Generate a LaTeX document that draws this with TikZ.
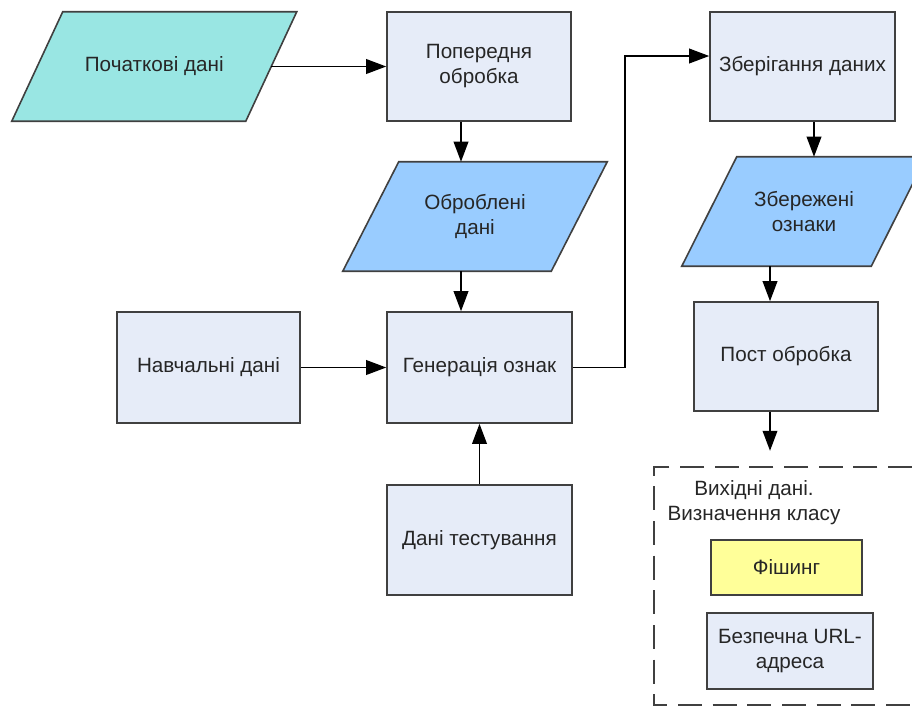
\documentclass[tikz,border=0pt]{standalone}
\usepackage{fontspec}
\setmainfont{Liberation Sans}
\usetikzlibrary{arrows.meta,calc,backgrounds}
\definecolor{boxfill}{HTML}{E6ECF8}
\definecolor{cyanfill}{HTML}{99E6E3}
\definecolor{bluefill}{HTML}{99CCFF}
\definecolor{yelfill}{HTML}{FFFF99}
\definecolor{edge}{HTML}{404040}
\definecolor{txt}{HTML}{262626}
\begin{document}
\begin{tikzpicture}[x=0.75pt,y=-0.75pt,
  sz/.style 2 args={minimum width=#1*0.75pt, minimum height=#2*0.75pt},
  lbl/.style={text=txt, align=center, inner sep=0pt, font=\fontsize{15.5}{18.75}\selectfont},
  box/.style={lbl, draw=edge, line width=1.2pt, fill=boxfill},
  para/.style={lbl, draw=none},
  parashape/.style={draw=edge, line width=1.2pt},
  arr/.style={draw=black, line width=1.1pt, -{Triangle[length=15pt,width=11pt]}},
  dashbox/.style={draw=edge, line width=1.2pt, dash pattern=on 18pt off 8pt}
]
\useasboundingbox (0,0) rectangle (912,708);

% nodes
\node[para, sz={233.5}{109}] (pd) at (154.25,66.5) {Початкові дані};
\node[box, sz={184}{109}] (pp) at (479,66.5) {Попередня\\обробка};
\node[para, sz={208}{109}] (ob) at (475,216.5) {Оброблені\\дані};
\node[box, sz={183}{111}] (nd) at (208.5,367.5) {Навчальні дані};
\node[box, sz={185}{111}] (gen) at (479.5,367.5) {Генерація ознак};
\node[box, sz={185}{110}] (dt) at (479.5,540) {Дані тестування};
\node[box, sz={185}{109}] (zb) at (802.5,66.5) {Зберігання даних};
\node[para, sz={189}{109}] (zo) at (804,211.5) {Збережені\\ознаки};
\node[box, sz={184}{109}] (post) at (786,356.5) {Пост обробка};
\node[lbl] (outlbl) at (754,502.5) {Вихідні дані.\\Визначення класу};
\node[box, fill=yelfill, sz={151}{55}] (ph) at (786.5,567.5) {Фішинг};
\node[box, sz={166}{76}] (safe) at (790,651) {Безпечна URL-\\адреса};

% parallelogram shapes
\begin{scope}[on background layer]
  \path[parashape, fill=cyanfill] ($(pd.north west)+(25.5,0)$) -- ($(pd.north east)+(25.5,0)$) -- ($(pd.south east)+(-25.5,0)$) -- ($(pd.south west)+(-25.5,0)$) -- cycle;
  \path[parashape, fill=bluefill] ($(ob.north west)+(28,0)$) -- ($(ob.north east)+(28,0)$) -- ($(ob.south east)+(-28,0)$) -- ($(ob.south west)+(-28,0)$) -- cycle;
  \path[parashape, fill=bluefill] ($(zo.north west)+(27.5,0)$) -- ($(zo.north east)+(27.5,0)$) -- ($(zo.south east)+(-27.5,0)$) -- ($(zo.south west)+(-27.5,0)$) -- cycle;
\end{scope}

% dashed output frame
\draw[dashbox] (912,467) -- (654,467) -- (654,705) -- (912,705);

% connectors
\draw[arr] (pd.east) -- (pp.west);
\coordinate (c1) at ($(pp.south)+(-18,0)$);
\draw[arr] (c1) -- (c1 |- ob.north);
\coordinate (c2) at ($(ob.south)+(-14,0)$);
\draw[arr] (c2) -- (c2 |- gen.north);
\draw[arr] (nd.east) -- (gen.west);
\draw[arr] (dt.north) -- (gen.south);
\coordinate (c3) at ($(zb.west)+(0,-10.5)$);
\draw[arr] (gen.east) -- ++(52,0) |- (c3);
\coordinate (c4) at ($(zb.south)+(11.5,0)$);
\draw[arr] (c4) -- (c4 |- zo.north);
\coordinate (c5) at ($(zo.south)+(-34,0)$);
\draw[arr] (c5) -- (c5 |- post.north);
\coordinate (c6) at ($(post.south)+(-16,0)$);
\coordinate (outarr) at ($(post.south)+(-16,39)$);
\draw[arr] (c6) -- (outarr);
\end{tikzpicture}
\end{document}
